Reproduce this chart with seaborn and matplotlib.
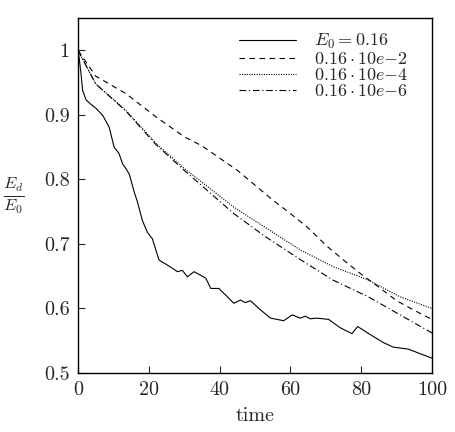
import numpy as np
import pandas as pd
import matplotlib
matplotlib.use('Agg')
import matplotlib.pyplot as plt
import seaborn as sns

# curve E0 = 0.16 (noisy)
t_e0 = [0, 0.4, 0.85, 1.3, 2.3, 3.5, 5.1, 7, 8.8, 10.2, 11.6, 12.6, 13.5, 14.5, 15.9,
        16.8, 18.2, 19.6, 21, 22.9, 25.3, 28.1, 29.5, 30.9, 32.8, 36.1, 37.5, 39.8,
        42.2, 44, 45.9, 47.3, 48.7, 51.5, 54.4, 58.1, 60.5, 62.8, 64.2, 65.6, 67.5,
        70.8, 74.1, 77.4, 79, 80.7, 82.1, 86.3, 89.1, 93.3, 96.6, 100]
e_e0 = [1.0, 0.985, 0.964, 0.938, 0.923, 0.917, 0.910, 0.899, 0.881, 0.850, 0.840,
        0.824, 0.817, 0.808, 0.780, 0.765, 0.736, 0.718, 0.708, 0.675, 0.667, 0.657,
        0.659, 0.649, 0.657, 0.647, 0.631, 0.631, 0.618, 0.608, 0.613, 0.609, 0.612,
        0.598, 0.585, 0.581, 0.590, 0.585, 0.588, 0.584, 0.585, 0.583, 0.570, 0.561,
        0.572, 0.566, 0.561, 0.547, 0.540, 0.537, 0.530, 0.523]

# 0.16 * 10e-2
t_m2 = [0, 5, 13.5, 22, 30, 35, 40, 45, 50, 55, 60, 65, 70, 75, 80, 85, 90, 95, 100]
e_m2 = [1.0, 0.960, 0.933, 0.897, 0.866, 0.852, 0.833, 0.814, 0.791, 0.768, 0.747,
        0.725, 0.698, 0.675, 0.653, 0.633, 0.612, 0.597, 0.583]

# 0.16 * 10e-4
t_m4 = [0, 5, 13.5, 22, 30, 44, 57, 63, 72, 82, 91, 100]
e_m4 = [1.0, 0.948, 0.907, 0.856, 0.817, 0.757, 0.711, 0.690, 0.665, 0.644, 0.618, 0.600]

# 0.16 * 10e-6
t_m6 = [0, 5, 13.5, 22, 30, 44, 53, 63, 72, 82, 91, 100]
e_m6 = [1.0, 0.948, 0.906, 0.854, 0.814, 0.747, 0.711, 0.675, 0.644, 0.618, 0.590, 0.562]

labels = [r'$E_0 = 0.16$', r'$0.16\cdot 10e{-}2$', r'$0.16\cdot 10e{-}4$', r'$0.16\cdot 10e{-}6$']
yticks = [0.5, 0.6, 0.7, 0.8, 0.9, 1.0]
ytick_labels = ['0.5', '0.6', '0.7', '0.8', '0.9', '1']
xticks = [0, 20, 40, 60, 80, 100]

sns.set_style('ticks')
plt.rcParams['font.family'] = 'serif'
plt.rcParams['font.serif'] = ['cmr10', 'DejaVu Serif']
plt.rcParams['mathtext.fontset'] = 'cm'
plt.rcParams['axes.unicode_minus'] = False
plt.rcParams['axes.formatter.use_mathtext'] = True

fig = plt.figure(figsize=(4.55, 4.32), dpi=100)
ax = fig.add_axes([0.1714, 0.1366, 0.9495 - 0.1714, 0.9583 - 0.1366])

series = [(t_e0, e_e0, '-'), (t_m2, e_m2, (0, (5, 4))),
          (t_m4, e_m4, (0, (1, 1.2))), (t_m6, e_m6, (0, (6, 2.5, 1, 2.5)))]
for (t, e, ls), lab in zip(series, labels):
    sns.lineplot(x=t, y=e, ax=ax, color='black', linewidth=0.8,
                 linestyle=ls, label=lab)

ax.set_xlim(0, 100)
ax.set_ylim(0.5, 1.05)
ax.set_xticks(xticks)
ax.set_xticklabels([str(v) for v in xticks])
ax.set_yticks(yticks)
ax.set_yticklabels(ytick_labels)
ax.tick_params(direction='in', length=5, width=0.8, labelsize=14.5, pad=6)
for sp in ax.spines.values():
    sp.set_linewidth(1.0)
    sp.set_color('black')

ax.set_xlabel('time', fontsize=14.5, labelpad=6)
ax.set_ylabel(r'$\frac{E_d}{E_0}$', fontsize=17, rotation=0, labelpad=22, va='center')

ax.legend(loc='upper right', bbox_to_anchor=(0.965, 0.99), frameon=False, fontsize=13,
          handlelength=3.2, handletextpad=1.0, labelspacing=0.0, borderaxespad=0.2)

fig.savefig('out.png', dpi=100)
